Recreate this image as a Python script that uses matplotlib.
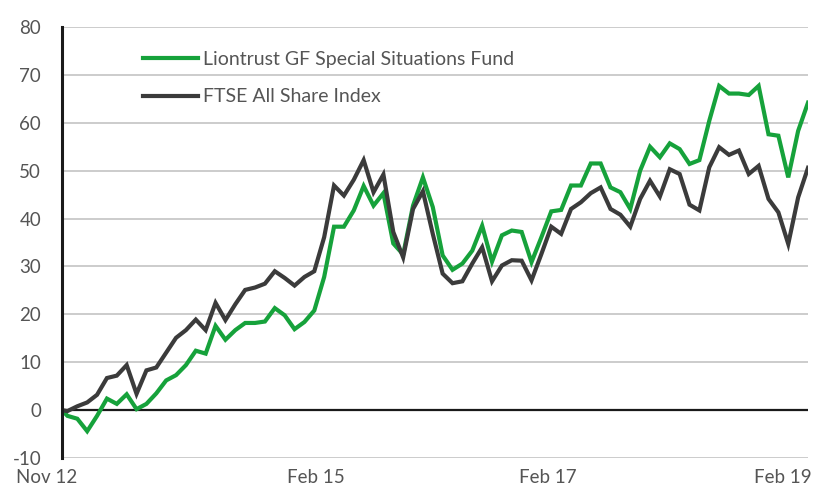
import matplotlib
matplotlib.use("Agg")
import matplotlib.pyplot as plt
import matplotlib.transforms as mtransforms

# month index: -0.55 is the launch date (mid Nov 12), 0..75 are month ends Nov 12 .. Feb 19
months = [-0.55] + list(range(76))

fund = [0.0,
        -1.2, -1.8, -4.4, -1.2, 2.4, 1.3, 3.3, 0.2, 1.3, 3.5,
        6.2, 7.3, 9.4, 12.4, 11.8, 17.6, 14.7, 16.7, 18.2, 18.2,
        18.5, 21.3, 19.8, 16.9, 18.4, 20.8, 27.8, 38.3, 38.3, 41.7,
        46.8, 42.7, 45.3, 34.8, 32.5, 42.7, 48.6, 42.4, 32.3, 29.3,
        30.6, 33.3, 38.5, 31.0, 36.5, 37.5, 37.2, 30.9, 36.1, 41.5,
        41.8, 46.9, 46.9, 51.5, 51.5, 46.5, 45.5, 42.0, 50.0, 55.0,
        52.8, 55.7, 54.5, 51.4, 52.2, 60.4, 67.7, 66.1, 66.1, 65.8,
        67.7, 57.6, 57.3, 48.6, 58.3, 64.2]

ftse = [0.0,
        -0.2, 0.8, 1.6, 3.2, 6.7, 7.2, 9.4, 3.4, 8.3, 8.9,
        12.0, 15.1, 16.7, 18.9, 16.7, 22.4, 18.8, 22.1, 25.1, 25.6,
        26.4, 29.0, 27.6, 26.0, 27.8, 29.0, 36.1, 46.9, 44.8, 48.1,
        52.2, 45.5, 49.2, 37.2, 31.9, 42.0, 45.7, 36.8, 28.5, 26.5,
        26.9, 30.6, 34.0, 26.9, 30.2, 31.3, 31.2, 27.1, 32.6, 38.3,
        36.8, 42.0, 43.4, 45.3, 46.5, 42.0, 40.8, 38.3, 44.1, 47.9,
        44.6, 50.3, 49.3, 42.9, 41.7, 50.7, 54.9, 53.3, 54.2, 49.3,
        51.0, 44.1, 41.3, 34.7, 44.4, 50.6]

series_names = ["Liontrust GF Special Situations Fund", "FTSE All Share Index"]
tick_pos = [-0.55, 25.2, 48.6, 72.4]
tick_labels = ["Nov 12", "Feb 15", "Feb 17", "Feb 19"]
y_ticks = list(range(-10, 90, 10))

GREEN = "#16a23b"
DARK = "#3b3b3b"
TEXT = "#555555"

plt.rcParams["font.family"] = ["Lato", "DejaVu Sans"]

fig = plt.figure(figsize=(8.16, 4.87), dpi=100)
ax = fig.add_axes([62 / 816, 1 - 458 / 487, (808 - 62) / 816, (458 - 27) / 487])

for v in y_ticks:
    if v != 0:
        ax.axhline(v, color="#c8c8c8", lw=1.3, zorder=1)
ax.axhline(0, color="#1a1a1a", lw=1.6, zorder=2)

ax.plot(months, fund, color=GREEN, lw=3.0, label=series_names[0], zorder=3,
        solid_joinstyle="miter")
ax.plot(months, ftse, color=DARK, lw=3.0, label=series_names[1], zorder=4,
        solid_joinstyle="miter")

ax.set_xlim(months[0], months[-1])
ax.set_ylim(-10, 80)
ax.set_yticks(y_ticks)
ax.set_yticklabels([str(v) for v in y_ticks])
ax.set_xticks(tick_pos)
ax.set_xticklabels(tick_labels)
ax.tick_params(axis="y", length=0, pad=15, labelsize=13.5, labelcolor=TEXT)
ax.tick_params(axis="x", length=0, pad=8, labelsize=13.5, labelcolor=TEXT)

# first date label sits left of the axis start
first = ax.get_xticklabels()[0]
first.set_transform(first.get_transform() +
                    mtransforms.ScaledTranslation(-15 / 100, 0, fig.dpi_scale_trans))

for s in ["top", "right", "bottom"]:
    ax.spines[s].set_visible(False)
ax.spines["left"].set_color("#1a1a1a")
ax.spines["left"].set_linewidth(2.2)
ax.spines["left"].set_zorder(5)

leg = ax.legend(loc="upper left", bbox_to_anchor=(143 / 816, 1 - 51 / 487),
                bbox_transform=fig.transFigure, frameon=False, fontsize=14,
                handlelength=2.85, handletextpad=0.22, labelspacing=1.05,
                borderpad=0, borderaxespad=0)
for t in leg.get_texts():
    t.set_color(TEXT)

fig.savefig("out.png", dpi=100)
